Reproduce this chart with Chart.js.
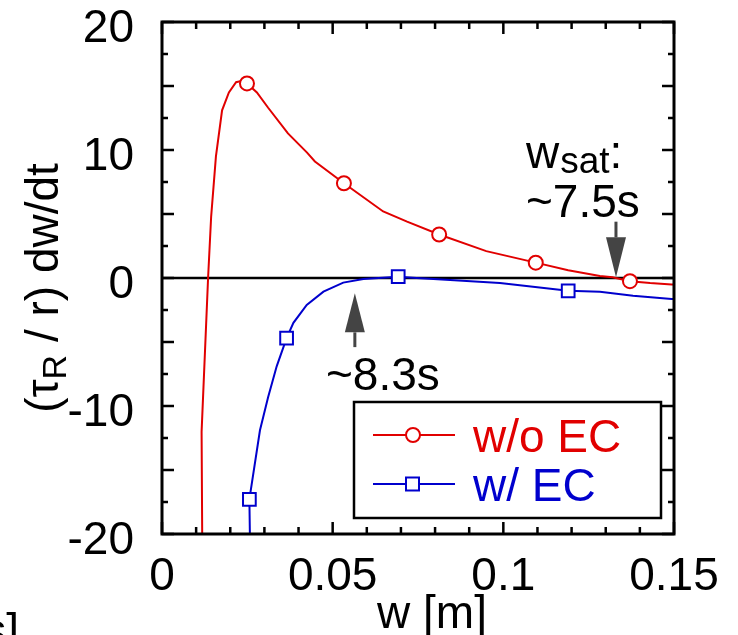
<!DOCTYPE html>
<html>
<head>
<meta charset="utf-8">
<script src="https://cdn.jsdelivr.net/npm/chart.js@4"></script>
<style>
  html, body { margin: 0; padding: 0; background: #fff; }
</style>
</head>
<body>
<canvas id="dwdtChart" width="738" height="635"></canvas>
<script>
// w/o EC curve
var redW = [0.0118, 0.0116, 0.0135, 0.0144, 0.0158, 0.0176, 0.0196, 0.0217, 0.0235, 0.0249,
  0.0278, 0.0311, 0.0369, 0.0425, 0.0448, 0.0533, 0.0648, 0.0718, 0.0812, 0.095,
  0.1095, 0.119, 0.1283, 0.132, 0.1371, 0.143, 0.1493, 0.15];
var redV = [-21, -12, 0, 4.8, 9.5, 13.1, 14.5, 15.3, 15.4, 15.2,
  14.5, 13.3, 11.3, 9.8, 9.1, 7.4, 5.2, 4.4, 3.4, 2.1,
  1.2, 0.6, 0.16, 0.05, -0.25, -0.4, -0.5, -0.5];
var redMarkW = [0.0249, 0.0533, 0.0812, 0.1095, 0.1371];
var redMarkV = [15.2, 7.4, 3.4, 1.2, -0.25];

// w/ EC curve
var blueW = [0.0258, 0.0256, 0.0287, 0.0311, 0.0336, 0.0365, 0.0385, 0.0424, 0.0473, 0.0531,
  0.059, 0.0692, 0.0746, 0.0844, 0.099, 0.119, 0.1283, 0.138, 0.1493, 0.15];
var blueV = [-21, -17.3, -11.9, -9.3, -6.9, -4.7, -3.5, -2.1, -1.07, -0.36,
  -0.08, 0.1, 0, -0.16, -0.4, -1.0, -1.07, -1.38, -1.64, -1.65];
var blueMarkW = [0.0256, 0.0365, 0.0692, 0.119];
var blueMarkV = [-17.3, -4.7, 0.1, -1.0];

// axes
var xLabels = [0, 0.05, 0.1, 0.15];
var xMinor = [0.01, 0.02, 0.03, 0.04, 0.06, 0.07, 0.08, 0.09, 0.11, 0.12, 0.13, 0.14];
var yLabels = [-20, -10, 0, 10, 20];
var yLong = [-20, -15, -10, -5, 0, 5, 10, 15, 20];
var yShort = [-17.5, -12.5, -7.5, -2.5, 2.5, 7.5, 12.5, 17.5];

var RED = "rgb(225, 0, 0)";
var BLUE = "rgb(0, 0, 205)";
var FONT = "'Liberation Sans', Arial, Helvetica, sans-serif";

function pts(xs, ys) {
  return xs.map(function (v, i) { return { x: v, y: ys[i] }; });
}

function arrow(ctx, x, tail, tip, head) {
  var dir = tip > tail ? 1 : -1;
  ctx.beginPath();
  ctx.moveTo(x, tail);
  ctx.lineTo(x, tip - dir * head);
  ctx.stroke();
  ctx.beginPath();
  ctx.moveTo(x, tip);
  ctx.lineTo(x - 10, tip - dir * head);
  ctx.lineTo(x + 10, tip - dir * head);
  ctx.closePath();
  ctx.fill();
}

var framePlugin = {
  id: "framePlugin",
  beforeDatasetsDraw: function (chart) {
    var ctx = chart.ctx, a = chart.chartArea;
    var y0 = chart.scales.y.getPixelForValue(0);
    ctx.save();
    ctx.strokeStyle = "#000";
    ctx.lineWidth = 2.5;
    ctx.beginPath();
    ctx.moveTo(a.left, y0);
    ctx.lineTo(a.right, y0);
    ctx.stroke();
    ctx.restore();
  },
  afterDatasetsDraw: function (chart) {
    var ctx = chart.ctx, a = chart.chartArea;
    var x = chart.scales.x, y = chart.scales.y;
    ctx.save();
    ctx.strokeStyle = "#000";
    ctx.lineWidth = 3;
    ctx.strokeRect(a.left, a.top, a.right - a.left, a.bottom - a.top);

    ctx.lineWidth = 2.5;
    ctx.beginPath();
    function xt(v, len) {
      var p = x.getPixelForValue(v);
      ctx.moveTo(p, a.bottom); ctx.lineTo(p, a.bottom - len);
      ctx.moveTo(p, a.top); ctx.lineTo(p, a.top + len);
    }
    function yt(v, len) {
      var p = y.getPixelForValue(v);
      ctx.moveTo(a.left, p); ctx.lineTo(a.left + len, p);
      ctx.moveTo(a.right, p); ctx.lineTo(a.right - len, p);
    }
    xLabels.forEach(function (v) { xt(v, 12); });
    xMinor.forEach(function (v) { xt(v, 7); });
    yLong.forEach(function (v) { yt(v, 12); });
    yShort.forEach(function (v) { yt(v, 6); });
    ctx.stroke();

    ctx.fillStyle = "#000";
    ctx.font = "46px " + FONT;
    ctx.textBaseline = "alphabetic";
    ctx.textAlign = "center";
    xLabels.forEach(function (v) {
      ctx.fillText(String(v), x.getPixelForValue(v), a.bottom + 56);
    });
    ctx.textAlign = "right";
    yLabels.forEach(function (v) {
      ctx.fillText(String(v), a.left - 28, y.getPixelForValue(v) + 20);
    });

    // axis titles
    ctx.textAlign = "center";
    ctx.fillText("w [m]", 432, 628);
    ctx.textAlign = "right";
    ctx.fillText("[s]", 19, 646);

    ctx.save();
    ctx.translate(58, 288);
    ctx.rotate(-Math.PI / 2);
    ctx.textAlign = "left";
    var big = "46px " + FONT, small = "34px " + FONT;
    ctx.font = big;
    var w1 = ctx.measureText("(\u03c4").width;
    var w3 = ctx.measureText(" / r) dw/dt").width;
    ctx.font = small;
    var w2 = ctx.measureText("R").width;
    var sx = -(w1 + w2 + w3) / 2;
    ctx.font = big;
    ctx.fillText("(\u03c4", sx, 0);
    ctx.font = small;
    ctx.fillText("R", sx + w1, 8);
    ctx.font = big;
    ctx.fillText(" / r) dw/dt", sx + w1 + w2, 0);
    ctx.restore();
    ctx.restore();
  },
  afterDraw: function (chart) {
    var ctx = chart.ctx;
    var x = chart.scales.x, y = chart.scales.y;
    ctx.save();
    // annotations
    ctx.fillStyle = "#000";
    ctx.textBaseline = "alphabetic";
    ctx.textAlign = "left";
    ctx.font = "46px " + FONT;
    ctx.fillText("w", 526, 168);
    var ww = ctx.measureText("w").width;
    ctx.font = "37px " + FONT;
    ctx.fillText("sat", 526 + ww + 1, 173);
    var ws = ctx.measureText("sat").width;
    ctx.font = "46px " + FONT;
    ctx.fillText(":", 526 + ww + ws + 1, 168);
    ctx.fillText("~7.5s", 526, 217);
    ctx.fillText("~8.3s", 326, 390);

    ctx.strokeStyle = "#444";
    ctx.fillStyle = "#444";
    ctx.lineWidth = 3;
    arrow(ctx, x.getPixelForValue(0.133), y.getPixelForValue(4.4), y.getPixelForValue(0.05), 40);
    arrow(ctx, x.getPixelForValue(0.0565), y.getPixelForValue(-5.4), y.getPixelForValue(-1.2), 39);

    // legend
    ctx.fillStyle = "#fff";
    ctx.fillRect(354, 402, 307, 116);
    ctx.strokeStyle = "#000";
    ctx.lineWidth = 2.5;
    ctx.strokeRect(354, 402, 307, 116);
    var rows = [
      { label: "w/o EC", color: RED, y: 435, style: "circle" },
      { label: "w/ EC", color: BLUE, y: 484, style: "rect" }
    ];
    rows.forEach(function (r) {
      ctx.strokeStyle = r.color;
      ctx.lineWidth = 2;
      ctx.beginPath();
      ctx.moveTo(373, r.y);
      ctx.lineTo(455, r.y);
      ctx.stroke();
      ctx.fillStyle = "#fff";
      ctx.beginPath();
      if (r.style === "circle") {
        ctx.arc(413, r.y, 7, 0, Math.PI * 2);
      } else {
        ctx.rect(406, r.y - 6.5, 13, 13);
      }
      ctx.fill();
      ctx.stroke();
      ctx.fillStyle = r.color;
      ctx.font = "46px " + FONT;
      ctx.fillText(r.label, 473, r.y + 16.5);
    });
    ctx.restore();
  }
};

var chart = new Chart(document.getElementById("dwdtChart"), {
  type: "scatter",
  data: {
    datasets: [
      {
        label: "w/o EC markers",
        data: pts(redMarkW, redMarkV),
        showLine: false,
        pointStyle: "circle",
        pointRadius: 7,
        pointBorderWidth: 2,
        pointBorderColor: RED,
        pointBackgroundColor: "#fff",
        order: 0,
      },
      {
        label: "w/ EC markers",
        data: pts(blueMarkW, blueMarkV),
        showLine: false,
        pointStyle: "rect",
        pointRadius: 9,
        pointBorderWidth: 2,
        pointBorderColor: BLUE,
        pointBackgroundColor: "#fff",
        order: 0,
      },
      {
        label: "w/o EC",
        data: pts(redW, redV),
        showLine: true,
        borderColor: RED,
        borderWidth: 2,
        pointRadius: 0,
        tension: 0,
        order: 1,
      },
      {
        label: "w/ EC",
        data: pts(blueW, blueV),
        showLine: true,
        borderColor: BLUE,
        borderWidth: 2,
        pointRadius: 0,
        tension: 0,
        order: 1,
      },
    ],
  },
  options: {
    responsive: false,
    animation: false,
    devicePixelRatio: 1,
    layout: {
      padding: { left: 162, right: 64, top: 22, bottom: 101 },
    },
    plugins: {
      legend: { display: false },
      tooltip: { enabled: false },
    },
    scales: {
      x: { type: "linear", display: false, min: 0, max: 0.15 },
      y: { type: "linear", display: false, min: -20, max: 20 },
    },
  },
  plugins: [framePlugin],
});
</script>
</body>
</html>
